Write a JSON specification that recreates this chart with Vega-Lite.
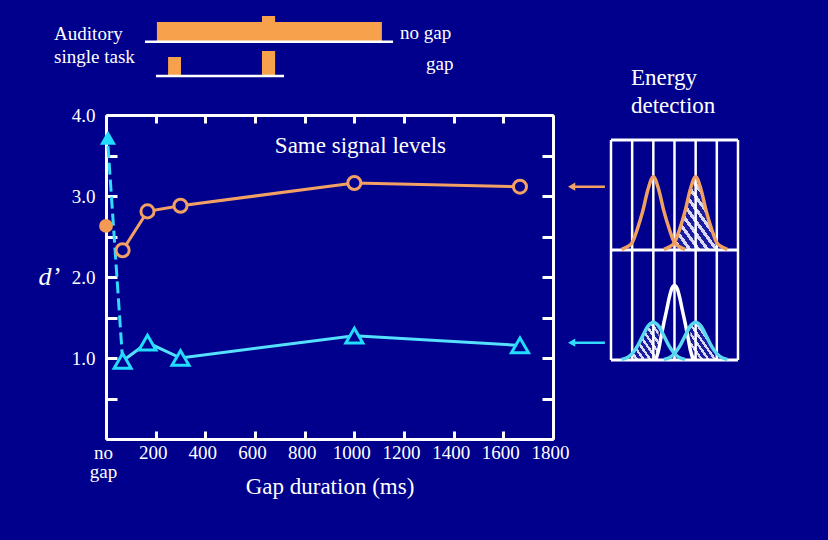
{
  "$schema": "https://vega.github.io/schema/vega-lite/v6.json",
  "width": 447,
  "height": 324,
  "autosize": {"type": "none"},
  "padding": {"left": 106, "top": 115, "right": 275, "bottom": 101},
  "background": "#00008c",
  "config": {"view": {"stroke": null}, "font": "Liberation Serif"},
  "datasets": {
    "orange": [
      {"ms": 67, "dp": 2.33}, {"ms": 167, "dp": 2.81}, {"ms": 300, "dp": 2.88}, {"ms": 1000, "dp": 3.16}, {"ms": 1667, "dp": 3.115}
    ],
    "cyan": [
      {"ms": 67, "dp": 0.963}, {"ms": 167, "dp": 1.19}, {"ms": 300, "dp": 1.0}, {"ms": 1000, "dp": 1.275}, {"ms": 1667, "dp": 1.155}
    ],
    "stim": [
      {"row": "no gap", "t0": 205, "t1": 1111, "a0": 4.905, "a1": 5.148},
      {"row": "no gap", "t0": 628, "t1": 681, "a0": 5.14, "a1": 5.222},
      {"row": "gap", "t0": 250, "t1": 302, "a0": 4.481, "a1": 4.716},
      {"row": "gap", "t0": 628, "t1": 681, "a0": 4.481, "a1": 4.79}
    ],
    "stimbase": [
      {"row": "no gap", "t0": 157, "t1": 1156, "a": 4.905},
      {"row": "gap", "t0": 201, "t1": 717, "a": 4.481}
    ],
    "arrows": [
      {"series": "orange", "dp": 3.115},
      {"series": "cyan", "dp": 1.189}
    ],
    "curves": [
      {"c": "o1", "u": 0.5, "v": 1.005}, {"c": "o1", "u": 0.75, "v": 1.027}, {"c": "o1", "u": 1.0, "v": 1.067}, {"c": "o1", "u": 1.25, "v": 1.193}, {"c": "o1", "u": 1.5, "v": 1.353}, {"c": "o1", "u": 1.75, "v": 1.553}, {"c": "o1", "u": 2.0, "v": 1.666}, {"c": "o1", "u": 2.25, "v": 1.553}, {"c": "o1", "u": 2.5, "v": 1.353}, {"c": "o1", "u": 2.75, "v": 1.193}, {"c": "o1", "u": 3.0, "v": 1.067}, {"c": "o1", "u": 3.25, "v": 1.027}, {"c": "o1", "u": 3.5, "v": 1.005},
      {"c": "o2", "u": 2.5, "v": 1.005}, {"c": "o2", "u": 2.75, "v": 1.027}, {"c": "o2", "u": 3.0, "v": 1.067}, {"c": "o2", "u": 3.25, "v": 1.193}, {"c": "o2", "u": 3.5, "v": 1.353}, {"c": "o2", "u": 3.75, "v": 1.553}, {"c": "o2", "u": 4.0, "v": 1.666}, {"c": "o2", "u": 4.25, "v": 1.553}, {"c": "o2", "u": 4.5, "v": 1.353}, {"c": "o2", "u": 4.75, "v": 1.193}, {"c": "o2", "u": 5.0, "v": 1.067}, {"c": "o2", "u": 5.25, "v": 1.027}, {"c": "o2", "u": 5.5, "v": 1.005},
      {"c": "w", "u": 2.125, "v": 0.01}, {"c": "w", "u": 2.25, "v": 0.09}, {"c": "w", "u": 2.375, "v": 0.22}, {"c": "w", "u": 2.5, "v": 0.34}, {"c": "w", "u": 2.625, "v": 0.45}, {"c": "w", "u": 2.75, "v": 0.565}, {"c": "w", "u": 2.875, "v": 0.65}, {"c": "w", "u": 3.0, "v": 0.677}, {"c": "w", "u": 3.125, "v": 0.65}, {"c": "w", "u": 3.25, "v": 0.565}, {"c": "w", "u": 3.375, "v": 0.45}, {"c": "w", "u": 3.5, "v": 0.34}, {"c": "w", "u": 3.625, "v": 0.22}, {"c": "w", "u": 3.75, "v": 0.09}, {"c": "w", "u": 3.875, "v": 0.01},
      {"c": "c1", "u": 0.5, "v": 0.006}, {"c": "c1", "u": 0.75, "v": 0.021}, {"c": "c1", "u": 1.0, "v": 0.058}, {"c": "c1", "u": 1.25, "v": 0.126}, {"c": "c1", "u": 1.5, "v": 0.22}, {"c": "c1", "u": 1.75, "v": 0.308}, {"c": "c1", "u": 2.0, "v": 0.344}, {"c": "c1", "u": 2.25, "v": 0.308}, {"c": "c1", "u": 2.5, "v": 0.22}, {"c": "c1", "u": 2.75, "v": 0.126}, {"c": "c1", "u": 3.0, "v": 0.058}, {"c": "c1", "u": 3.25, "v": 0.021}, {"c": "c1", "u": 3.5, "v": 0.006},
      {"c": "c2", "u": 2.5, "v": 0.006}, {"c": "c2", "u": 2.75, "v": 0.021}, {"c": "c2", "u": 3.0, "v": 0.058}, {"c": "c2", "u": 3.25, "v": 0.126}, {"c": "c2", "u": 3.5, "v": 0.22}, {"c": "c2", "u": 3.75, "v": 0.308}, {"c": "c2", "u": 4.0, "v": 0.344}, {"c": "c2", "u": 4.25, "v": 0.308}, {"c": "c2", "u": 4.5, "v": 0.22}, {"c": "c2", "u": 4.75, "v": 0.126}, {"c": "c2", "u": 5.0, "v": 0.058}, {"c": "c2", "u": 5.25, "v": 0.021}, {"c": "c2", "u": 5.5, "v": 0.006}
    ]
  },
  "layer": [
    {
      "data": {"name": "orange"},
      "mark": {"type": "point", "opacity": 0},
      "encoding": {
        "x": {
          "field": "ms", "type": "quantitative",
          "scale": {"domain": [0, 1800], "nice": false, "zero": false},
          "axis": {
            "orient": "bottom", "values": [0, 200, 400, 600, 800, 1000, 1200, 1400, 1600, 1800],
            "format": "d", "labelExpr": "datum.value == 0 ? ['no', 'gap'] : datum.label",
            "grid": false, "domainColor": "white", "domainWidth": 3,
            "tickColor": "white", "tickWidth": 3, "tickSize": -8,
            "labelColor": "white", "labelFont": "Liberation Serif", "labelFontSize": 19,
            "labelPadding": 12, "labelFlush": false, "labelOverlap": false, "labelBaseline": "top",
            "labelLineHeight": 19, "labelOffset": -3,
            "title": "Gap duration (ms)", "titleColor": "white", "titleFont": "Liberation Serif",
            "titleFontSize": 23, "titleFontWeight": "normal", "titleBaseline": "alphabetic", "titleY": 54
          }
        },
        "y": {
          "field": "dp", "type": "quantitative",
          "scale": {"domain": [0, 4], "nice": false, "zero": false},
          "axis": {
            "orient": "left", "values": [0, 0.5, 1, 1.5, 2, 2.5, 3, 3.5, 4],
            "labelExpr": "datum.value > 0 && datum.value % 1 == 0 ? format(datum.value, '.1f') : ''",
            "grid": false, "domainColor": "white", "domainWidth": 3,
            "tickColor": "white", "tickWidth": 3, "tickSize": -11,
            "labelColor": "white", "labelFont": "Liberation Serif", "labelFontSize": 19,
            "labelPadding": 22, "labelFlush": false, "labelOverlap": false, "labelBaseline": "middle",
            "title": "d’", "titleColor": "white", "titleFont": "Liberation Serif", "titleFontSize": 26,
            "titleFontStyle": "italic", "titleFontWeight": "normal", "titleAngle": 0,
            "titleAlign": "left", "titleBaseline": "alphabetic", "titleX": -68, "titleY": 169
          }
        }
      }
    },
    {
      "data": {"name": "orange"},
      "mark": {"type": "point", "opacity": 0},
      "encoding": {
        "x": {
          "field": "ms", "type": "quantitative",
          "scale": {"domain": [0, 1800], "nice": false, "zero": false},
          "axis": {
            "orient": "top", "values": [0, 200, 400, 600, 800, 1000, 1200, 1400, 1600, 1800],
            "labels": false, "title": null, "grid": false,
            "domainColor": "white", "domainWidth": 3, "tickColor": "white", "tickWidth": 3, "tickSize": -8
          }
        },
        "y": {
          "field": "dp", "type": "quantitative",
          "scale": {"domain": [0, 4], "nice": false, "zero": false},
          "axis": {
            "orient": "right", "values": [0, 0.5, 1, 1.5, 2, 2.5, 3, 3.5, 4],
            "labels": false, "title": null, "grid": false,
            "domainColor": "white", "domainWidth": 3, "tickColor": "white", "tickWidth": 3, "tickSize": -11
          }
        }
      }
    },
    {
      "layer": [
        {
          "data": {"name": "orange"},
          "mark": {"type": "line", "color": "#f2a064", "strokeWidth": 3},
          "encoding": {
            "x": {"field": "ms", "type": "quantitative", "scale": {"domain": [0, 1800], "nice": false, "zero": false}, "axis": null},
            "y": {"field": "dp", "type": "quantitative", "scale": {"domain": [0, 4], "nice": false, "zero": false}, "axis": null}
          }
        },
        {
          "data": {"name": "cyan"},
          "mark": {"type": "line", "color": "#55e0ff", "strokeWidth": 3},
          "encoding": {
            "x": {"field": "ms", "type": "quantitative", "axis": null},
            "y": {"field": "dp", "type": "quantitative", "axis": null}
          }
        },
        {
          "data": {"values": [{"ms": 8, "dp": 3.62}, {"ms": 67, "dp": 0.963}]},
          "mark": {"type": "line", "color": "#33d9ff", "strokeWidth": 3, "strokeDash": [12, 5]},
          "encoding": {
            "x": {"field": "ms", "type": "quantitative", "axis": null},
            "y": {"field": "dp", "type": "quantitative", "axis": null}
          }
        },
        {
          "data": {"name": "orange"},
          "mark": {"type": "point", "shape": "circle", "filled": false, "fill": "#00008c", "fillOpacity": 1, "stroke": "#f2a064", "strokeWidth": 3, "size": 170, "opacity": 1},
          "encoding": {
            "x": {"field": "ms", "type": "quantitative", "axis": null},
            "y": {"field": "dp", "type": "quantitative", "axis": null}
          }
        },
        {
          "data": {"name": "cyan"},
          "mark": {"type": "point", "shape": "triangle-up", "filled": false, "fill": "#00008c", "fillOpacity": 1, "stroke": "#22dcff", "strokeWidth": 3, "size": 290, "opacity": 1},
          "encoding": {
            "x": {"field": "ms", "type": "quantitative", "axis": null},
            "y": {"field": "dp", "type": "quantitative", "axis": null}
          }
        },
        {
          "data": {"values": [{"ms": 0, "dp": 2.63}]},
          "mark": {"type": "point", "shape": "circle", "filled": true, "color": "#f59a52", "size": 190, "opacity": 1},
          "encoding": {
            "x": {"field": "ms", "type": "quantitative", "axis": null},
            "y": {"field": "dp", "type": "quantitative", "axis": null}
          }
        },
        {
          "data": {"values": [{"ms": 8, "dp": 3.72}]},
          "mark": {"type": "point", "shape": "triangle-up", "filled": true, "color": "#22dcff", "size": 260, "opacity": 1},
          "encoding": {
            "x": {"field": "ms", "type": "quantitative", "axis": null},
            "y": {"field": "dp", "type": "quantitative", "axis": null}
          }
        },
        {
          "data": {"name": "stim"},
          "mark": {"type": "rect", "color": "#f8a14c"},
          "encoding": {
            "x": {"field": "t0", "type": "quantitative", "axis": null},
            "x2": {"field": "t1"},
            "y": {"field": "a0", "type": "quantitative", "axis": null},
            "y2": {"field": "a1"}
          }
        },
        {
          "data": {"name": "stimbase"},
          "mark": {"type": "rule", "color": "white", "strokeWidth": 2.5},
          "encoding": {
            "x": {"field": "t0", "type": "quantitative", "axis": null},
            "x2": {"field": "t1"},
            "y": {"field": "a", "type": "quantitative", "axis": null}
          }
        },
        {
          "data": {"values": [{"label": "Auditory"}]},
          "mark": {"type": "text", "color": "white", "fontSize": 19, "align": "left", "baseline": "alphabetic"},
          "encoding": {"x": {"datum": -209, "type": "quantitative", "axis": null}, "y": {"datum": 4.926, "type": "quantitative", "axis": null}, "text": {"field": "label"}}
        },
        {
          "data": {"values": [{"label": "single task"}]},
          "mark": {"type": "text", "color": "white", "fontSize": 19, "align": "left", "baseline": "alphabetic"},
          "encoding": {"x": {"datum": -209, "type": "quantitative", "axis": null}, "y": {"datum": 4.642, "type": "quantitative", "axis": null}, "text": {"field": "label"}}
        },
        {
          "data": {"values": [{"label": "no gap"}]},
          "mark": {"type": "text", "color": "white", "fontSize": 19, "align": "left", "baseline": "alphabetic"},
          "encoding": {"x": {"datum": 1184, "type": "quantitative", "axis": null}, "y": {"datum": 4.938, "type": "quantitative", "axis": null}, "text": {"field": "label"}}
        },
        {
          "data": {"values": [{"label": "gap"}]},
          "mark": {"type": "text", "color": "white", "fontSize": 19, "align": "left", "baseline": "alphabetic"},
          "encoding": {"x": {"datum": 1289, "type": "quantitative", "axis": null}, "y": {"datum": 4.55, "type": "quantitative", "axis": null}, "text": {"field": "label"}}
        },
        {
          "data": {"values": [{"label": "Same signal levels"}]},
          "mark": {"type": "text", "color": "white", "fontSize": 23, "align": "left", "baseline": "alphabetic"},
          "encoding": {"x": {"datum": 680, "type": "quantitative", "axis": null}, "y": {"datum": 3.527, "type": "quantitative", "axis": null}, "text": {"field": "label"}}
        },
        {
          "data": {"values": [{"label": "Energy"}]},
          "mark": {"type": "text", "color": "white", "fontSize": 23, "align": "left", "baseline": "alphabetic"},
          "encoding": {"x": {"datum": 2114, "type": "quantitative", "axis": null}, "y": {"datum": 4.37, "type": "quantitative", "axis": null}, "text": {"field": "label"}}
        },
        {
          "data": {"values": [{"label": "detection"}]},
          "mark": {"type": "text", "color": "white", "fontSize": 23, "align": "left", "baseline": "alphabetic"},
          "encoding": {"x": {"datum": 2114, "type": "quantitative", "axis": null}, "y": {"datum": 4.025, "type": "quantitative", "axis": null}, "text": {"field": "label"}}
        },
        {
          "data": {"name": "arrows"},
          "transform": [{"filter": "datum.series == 'orange'"}],
          "mark": {"type": "rule", "color": "#f2a064", "strokeWidth": 2.5},
          "encoding": {"x": {"datum": 1875, "type": "quantitative", "axis": null}, "x2": {"datum": 2009}, "y": {"field": "dp", "type": "quantitative", "axis": null}}
        },
        {
          "data": {"name": "arrows"},
          "transform": [{"filter": "datum.series == 'orange'"}],
          "mark": {"type": "point", "shape": "triangle-left", "filled": true, "color": "#f2a064", "size": 70, "opacity": 1},
          "encoding": {"x": {"datum": 1875, "type": "quantitative", "axis": null}, "y": {"field": "dp", "type": "quantitative", "axis": null}}
        },
        {
          "data": {"name": "arrows"},
          "transform": [{"filter": "datum.series == 'cyan'"}],
          "mark": {"type": "rule", "color": "#33d9ff", "strokeWidth": 2.5},
          "encoding": {"x": {"datum": 1875, "type": "quantitative", "axis": null}, "x2": {"datum": 2009}, "y": {"field": "dp", "type": "quantitative", "axis": null}}
        },
        {
          "data": {"name": "arrows"},
          "transform": [{"filter": "datum.series == 'cyan'"}],
          "mark": {"type": "point", "shape": "triangle-left", "filled": true, "color": "#33d9ff", "size": 70, "opacity": 1},
          "encoding": {"x": {"datum": 1875, "type": "quantitative", "axis": null}, "y": {"field": "dp", "type": "quantitative", "axis": null}}
        }
      ]
    },
    {
      "layer": [
        {
          "data": {"name": "curves"},
          "transform": [{"filter": "datum.c == 'o2' && datum.u >= 3"}],
          "mark": {
            "type": "area", "interpolate": "monotone", "opacity": 1,
            "fill": {"gradient": "linear", "x1": 0, "y1": 1, "x2": 1, "y2": 0, "stops": [
              {"offset": 0, "color": "#1c1ca0"}, {"offset": 0.0458, "color": "#1c1ca0"}, {"offset": 0.0458, "color": "#d8d8f4"}, {"offset": 0.0833, "color": "#d8d8f4"},
              {"offset": 0.0833, "color": "#1c1ca0"}, {"offset": 0.1292, "color": "#1c1ca0"}, {"offset": 0.1292, "color": "#d8d8f4"}, {"offset": 0.1667, "color": "#d8d8f4"},
              {"offset": 0.1667, "color": "#1c1ca0"}, {"offset": 0.2125, "color": "#1c1ca0"}, {"offset": 0.2125, "color": "#d8d8f4"}, {"offset": 0.25, "color": "#d8d8f4"},
              {"offset": 0.25, "color": "#1c1ca0"}, {"offset": 0.2958, "color": "#1c1ca0"}, {"offset": 0.2958, "color": "#d8d8f4"}, {"offset": 0.3333, "color": "#d8d8f4"},
              {"offset": 0.3333, "color": "#1c1ca0"}, {"offset": 0.3792, "color": "#1c1ca0"}, {"offset": 0.3792, "color": "#d8d8f4"}, {"offset": 0.4167, "color": "#d8d8f4"},
              {"offset": 0.4167, "color": "#1c1ca0"}, {"offset": 0.4625, "color": "#1c1ca0"}, {"offset": 0.4625, "color": "#d8d8f4"}, {"offset": 0.5, "color": "#d8d8f4"},
              {"offset": 0.5, "color": "#1c1ca0"}, {"offset": 0.5458, "color": "#1c1ca0"}, {"offset": 0.5458, "color": "#d8d8f4"}, {"offset": 0.5833, "color": "#d8d8f4"},
              {"offset": 0.5833, "color": "#1c1ca0"}, {"offset": 0.6292, "color": "#1c1ca0"}, {"offset": 0.6292, "color": "#d8d8f4"}, {"offset": 0.6667, "color": "#d8d8f4"},
              {"offset": 0.6667, "color": "#1c1ca0"}, {"offset": 0.7125, "color": "#1c1ca0"}, {"offset": 0.7125, "color": "#d8d8f4"}, {"offset": 0.75, "color": "#d8d8f4"},
              {"offset": 0.75, "color": "#1c1ca0"}, {"offset": 0.7958, "color": "#1c1ca0"}, {"offset": 0.7958, "color": "#d8d8f4"}, {"offset": 0.8333, "color": "#d8d8f4"},
              {"offset": 0.8333, "color": "#1c1ca0"}, {"offset": 0.8792, "color": "#1c1ca0"}, {"offset": 0.8792, "color": "#d8d8f4"}, {"offset": 0.9167, "color": "#d8d8f4"},
              {"offset": 0.9167, "color": "#1c1ca0"}, {"offset": 0.9625, "color": "#1c1ca0"}, {"offset": 0.9625, "color": "#d8d8f4"}, {"offset": 1, "color": "#d8d8f4"}
            ]}
          },
          "encoding": {
            "x": {"field": "u", "type": "quantitative", "scale": {"domain": [-23.86, -2.74], "nice": false, "zero": false}, "axis": null},
            "y": {"field": "v", "type": "quantitative", "scale": {"domain": [-0.718, 2.227], "nice": false, "zero": false}, "axis": null, "stack": null},
            "y2": {"datum": 1}
          }
        },
        {
          "data": {"name": "curves"},
          "transform": [{"filter": "(datum.c == 'c1' && datum.u >= 1 && datum.u <= 2.25) || (datum.c == 'c2' && datum.u >= 3.75 && datum.u <= 5)"}],
          "mark": {
            "type": "area", "interpolate": "monotone", "opacity": 1,
            "fill": {"gradient": "linear", "x1": 0, "y1": 1, "x2": 1, "y2": 0, "stops": [
              {"offset": 0, "color": "#1c1ca0"}, {"offset": 0.07, "color": "#1c1ca0"}, {"offset": 0.07, "color": "#d8d8f4"}, {"offset": 0.125, "color": "#d8d8f4"},
              {"offset": 0.125, "color": "#1c1ca0"}, {"offset": 0.195, "color": "#1c1ca0"}, {"offset": 0.195, "color": "#d8d8f4"}, {"offset": 0.25, "color": "#d8d8f4"},
              {"offset": 0.25, "color": "#1c1ca0"}, {"offset": 0.32, "color": "#1c1ca0"}, {"offset": 0.32, "color": "#d8d8f4"}, {"offset": 0.375, "color": "#d8d8f4"},
              {"offset": 0.375, "color": "#1c1ca0"}, {"offset": 0.445, "color": "#1c1ca0"}, {"offset": 0.445, "color": "#d8d8f4"}, {"offset": 0.5, "color": "#d8d8f4"},
              {"offset": 0.5, "color": "#1c1ca0"}, {"offset": 0.57, "color": "#1c1ca0"}, {"offset": 0.57, "color": "#d8d8f4"}, {"offset": 0.625, "color": "#d8d8f4"},
              {"offset": 0.625, "color": "#1c1ca0"}, {"offset": 0.695, "color": "#1c1ca0"}, {"offset": 0.695, "color": "#d8d8f4"}, {"offset": 0.75, "color": "#d8d8f4"},
              {"offset": 0.75, "color": "#1c1ca0"}, {"offset": 0.82, "color": "#1c1ca0"}, {"offset": 0.82, "color": "#d8d8f4"}, {"offset": 0.875, "color": "#d8d8f4"},
              {"offset": 0.875, "color": "#1c1ca0"}, {"offset": 0.945, "color": "#1c1ca0"}, {"offset": 0.945, "color": "#d8d8f4"}, {"offset": 1, "color": "#d8d8f4"}
            ]}
          },
          "encoding": {
            "x": {"field": "u", "type": "quantitative", "axis": null},
            "y": {"field": "v", "type": "quantitative", "axis": null, "stack": null},
            "y2": {"datum": 0},
            "detail": {"field": "c"}
          }
        },
        {
          "data": {"values": [{"u": 0}, {"u": 1}, {"u": 2}, {"u": 3}, {"u": 4}, {"u": 5}, {"u": 6}]},
          "mark": {"type": "rule", "color": "white", "strokeWidth": 2.5},
          "encoding": {
            "x": {"field": "u", "type": "quantitative", "axis": null},
            "y": {"datum": 0, "type": "quantitative", "axis": null},
            "y2": {"datum": 2}
          }
        },
        {
          "data": {"values": [{"v": 0}, {"v": 1}, {"v": 2}]},
          "mark": {"type": "rule", "color": "white", "strokeWidth": 3},
          "encoding": {
            "x": {"datum": 0, "type": "quantitative", "axis": null},
            "x2": {"datum": 6},
            "y": {"field": "v", "type": "quantitative", "axis": null}
          }
        },
        {
          "data": {"name": "curves"},
          "transform": [{"filter": "datum.c == 'o1' || datum.c == 'o2'"}],
          "mark": {"type": "line", "interpolate": "monotone", "color": "#f0a060", "strokeWidth": 3.5},
          "encoding": {
            "x": {"field": "u", "type": "quantitative", "axis": null},
            "y": {"field": "v", "type": "quantitative", "axis": null},
            "detail": {"field": "c"}
          }
        },
        {
          "data": {"name": "curves"},
          "transform": [{"filter": "datum.c == 'w'"}],
          "mark": {"type": "line", "interpolate": "monotone", "color": "white", "strokeWidth": 3.5},
          "encoding": {
            "x": {"field": "u", "type": "quantitative", "axis": null},
            "y": {"field": "v", "type": "quantitative", "axis": null}
          }
        },
        {
          "data": {"name": "curves"},
          "transform": [{"filter": "datum.c == 'c1' || datum.c == 'c2'"}],
          "mark": {"type": "line", "interpolate": "monotone", "color": "#5ad8f0", "strokeWidth": 3.5},
          "encoding": {
            "x": {"field": "u", "type": "quantitative", "axis": null},
            "y": {"field": "v", "type": "quantitative", "axis": null},
            "detail": {"field": "c"}
          }
        }
      ]
    }
  ],
  "resolve": {
    "scale": {"x": "independent", "y": "independent"},
    "axis": {"x": "independent", "y": "independent"}
  }
}
